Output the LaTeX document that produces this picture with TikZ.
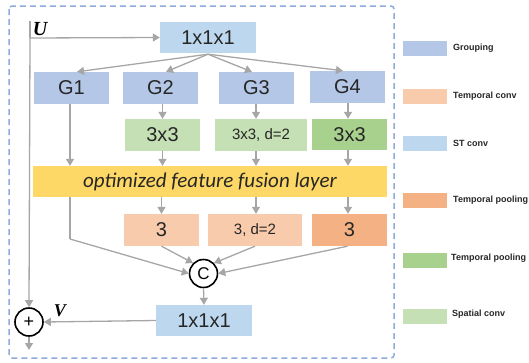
\documentclass[tikz,border=0pt]{standalone}
\usepackage{fontspec}
\setmainfont{Liberation Sans}
\newfontfamily\fusefont{Carlito}
\newfontfamily\varfont{Liberation Serif}
\usetikzlibrary{arrows.meta,calc}

\definecolor{grpblue}{HTML}{B4C7E7}
\definecolor{stblue}{HTML}{BDD7EE}
\definecolor{tconv}{HTML}{F8CBAD}
\definecolor{tpool}{HTML}{F4B183}
\definecolor{gpool}{HTML}{A9D18E}
\definecolor{sconv}{HTML}{C5E0B4}
\definecolor{fusion}{HTML}{FDD866}
\definecolor{flow}{HTML}{A6A6A6}
\definecolor{framecol}{HTML}{8FAADC}
\definecolor{ink}{HTML}{262626}

\tikzset{
  blk/.style={rectangle, inner sep=0pt, text=ink, font=\fontsize{20}{22}\selectfont},
  smallblk/.style={blk, font=\fontsize{15}{17}\selectfont},
  op/.style={circle, draw=black, line width=1.6pt, minimum size=28pt, inner sep=0pt, fill=white},
  flowarrow/.style={draw=flow, line width=1.3pt, -{Triangle[length=7pt,width=8pt]}},
  flowline/.style={draw=flow, line width=1.3pt},
  legbox/.style={rectangle, minimum width=44pt, minimum height=15pt, inner sep=0pt},
  legtext/.style={anchor=west, inner sep=0pt, text=ink, font=\fontsize{9}{10}\selectfont\bfseries},
}

\begin{document}
\begin{tikzpicture}[x=1pt,y=-1pt]
  \useasboundingbox (0,0) rectangle (529,362);

  % outer module frame
  \draw[framecol, line width=1.5pt, dash pattern=on 6pt off 4pt, rounded corners=3pt]
    (9,6) rectangle (394,358);

  % input 1x1x1 and the four groups
  \node[blk, fill=stblue, minimum width=96pt, minimum height=31pt] (top) at (208,37.5) {1x1x1};
  \node[blk, fill=grpblue, minimum width=75pt, minimum height=32pt] (g1) at (71.5,88) {G1};
  \node[blk, fill=grpblue, minimum width=75pt, minimum height=32pt] (g2) at (160.5,88) {G2};
  \node[blk, fill=grpblue, minimum width=75pt, minimum height=32pt] (g3) at (256.5,88) {G3};
  \node[blk, fill=grpblue, minimum width=75pt, minimum height=32pt] (g4) at (347.5,87) {G4};

  % spatial stage
  \node[blk, fill=sconv, minimum width=75pt, minimum height=32pt] (s2) at (162.5,135) {3x3};
  \node[smallblk, fill=sconv, minimum width=92pt, minimum height=32pt] (s3) at (261,135) {3x3, d=2};
  \node[blk, fill=gpool, minimum width=75pt, minimum height=31pt] (s4) at (349.5,134.5) {3x3};

  % fusion layer
  \node[rectangle, inner sep=0pt, fill=fusion, minimum width=354pt, minimum height=31pt,
        text=ink, font=\fontsize{21}{23}\fusefont\itshape] (fuse) at (210,181.5)
        {optimized feature fusion layer};

  % temporal stage
  \node[blk, fill=tconv, minimum width=75pt, minimum height=32pt] (t2) at (161.5,230) {3};
  \node[smallblk, fill=tconv, minimum width=94pt, minimum height=32pt] (t3) at (255,230) {3, d=2};
  \node[blk, fill=tpool, minimum width=75pt, minimum height=32pt] (t4) at (349.5,230) {3};

  % concatenation, output projection and residual sum
  \node[op, font=\fontsize{17}{19}\selectfont] (cat) at (203.5,273.5) {C};
  \node[blk, fill=stblue, minimum width=96pt, minimum height=31pt] (bot) at (204,320.5) {1x1x1};
  \node[op, font=\fontsize{18}{20}\selectfont] (sum) at (29,322) {+};

  % variable labels
  \node[font=\fontsize{20}{22}\varfont\bfseries\itshape, inner sep=0pt] (ulab) at (40,29) {U};
  \node[font=\fontsize{18}{20}\varfont\bfseries\itshape, inner sep=0pt] (vlab) at (60,311) {V};

  % helper points on the input line
  \coordinate (uin) at (30,21);
  \coordinate (ubranch) at (30,38);
  \coordinate (out) at (29,350);

  % input path and skip connection
  \draw[flowline] (uin) -- (ubranch);
  \draw[flowarrow] (ubranch) -- (top.west);
  \draw[flowarrow] (ubranch) -- (sum.north);

  % split into groups
  \coordinate (split) at ($(top.south)+(0,1)$);
  \draw[flowarrow] (split) -- ($(g1.north)+(5.5,0)$);
  \draw[flowarrow] (split) -- ($(g2.north)+(5.5,0)$);
  \draw[flowarrow] (split) -- ($(g3.north)+(-4.5,0)$);
  \draw[flowarrow] (split) -- ($(g4.north)+(-4.5,0)$);

  % groups into the spatial stage
  \draw[flowarrow] ($(g1.south)+(-1.5,0)$) -- ($(fuse.north)+(-140,0)$);
  \draw[flowarrow] (g2.south -| s2) -- (s2.north);
  \draw[flowarrow] ($(g3.south)+(-0.5,0)$) -- ($(s3.north)+(-5,0)$);
  \draw[flowarrow] ($(g4.south)+(0.5,0)$) -- ($(s4.north)+(-1.5,0)$);

  % spatial stage into fusion layer
  \draw[flowarrow] (s2.south) -- (s2.south |- fuse.north);
  \draw[flowarrow] ($(s3.south)+(-5,0)$) -- ($(s3.south |- fuse.north)+(-5,0)$);
  \draw[flowarrow] ($(s4.south)+(-1.5,0)$) -- ($(s4.south |- fuse.north)+(-1.5,0)$);

  % fusion layer into temporal stage
  \draw[flowarrow] (fuse.south -| t2) -- (t2.north);
  \draw[flowarrow] ($(fuse.south -| t3)+(1,0)$) -- ($(t3.north)+(1,0)$);
  \draw[flowarrow] ($(fuse.south -| t4)+(-1.5,0)$) -- ($(t4.north)+(-1.5,0)$);

  % everything into the concatenation
  \coordinate (bend) at (70,239);
  \draw[flowline] ($(fuse.south)+(-140,0)$) -- (bend);
  \draw[flowarrow] (bend) -- (cat.west);
  \draw[flowarrow] (t2.south) -- (cat.north west);
  \draw[flowarrow] (t3.south) -- (cat.north east);
  \draw[flowarrow] ($(t4.south)+(-2,0)$) -- (cat.east);

  % output projection and sum
  \draw[flowarrow] (cat.south) -- (bot.north);
  \draw[flowarrow] (bot.west) -- (sum.east);
  \draw[flowarrow] (sum.south) -- (out);

  % legend
  \node[legbox, fill=grpblue] (lg1) at (425,48.5) {};
  \node[legtext] at (453,48.5) {Grouping};
  \node[legbox, fill=tconv] (lg2) at (425,96.5) {};
  \node[legtext] at (453,96.5) {Temporal conv};
  \node[legbox, fill=stblue] (lg3) at (425,143.5) {};
  \node[legtext] at (453,143.5) {ST conv};
  \node[legbox, fill=tpool] (lg4) at (425,200.5) {};
  \node[legtext] at (453,200.5) {Temporal pooling};
  \node[legbox, fill=gpool] (lg5) at (425,260.5) {};
  \node[legtext] at (451,258.5) {Temporal pooling};
  \node[legbox, fill=sconv] (lg6) at (425,316.5) {};
  \node[legtext] at (452,314.5) {Spatial conv};
\end{tikzpicture}
\end{document}
